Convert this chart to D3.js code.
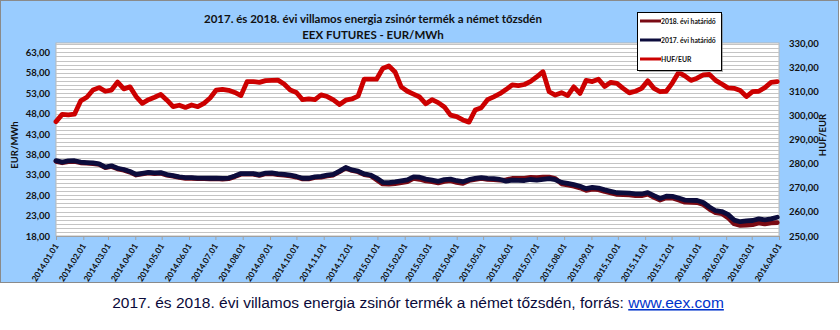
<!DOCTYPE html>
<html>
<head>
<meta charset="utf-8">
<script src="https://cdn.jsdelivr.net/npm/d3@7/dist/d3.min.js"></script>
<style>
  html, body { margin: 0; padding: 0; background: #fff; }
  svg { display: block; }
</style>
</head>
<body>
<svg id="chart" width="840" height="330"></svg>
<script>
// ---- Data (weekly readings starting 2014-01-01) ----
const startDate = "2014-01-01";
const stepDays = 7;

const hufEur = [
 297.4,300.4,300.2,300.5,306.0,307.5,310.5,311.5,310.0,310.5,
 313.8,311.0,311.8,307.8,305.0,306.5,307.5,308.7,306.3,303.6,
 304.2,303.3,304.3,303.6,305.0,307.2,310.5,310.8,310.4,309.5,
 308.2,314.0,314.0,313.7,314.4,314.5,314.6,313.0,310.5,309.5,
 306.5,306.8,306.5,308.5,307.8,306.4,304.5,306.3,306.8,308.0,
 315.0,315.0,315.0,319.4,320.5,318.0,311.8,310.0,308.8,307.6,
 304.8,306.5,305.3,303.5,300.1,299.5,298.1,297.2,302.2,303.2,
 306.5,307.7,309.0,310.7,312.6,312.3,312.8,314.1,316.0,318.1,
 309.8,308.4,309.4,308.2,311.8,309.1,314.5,314.0,315.0,312.0,
 313.7,313.3,311.2,309.3,310.0,311.2,314.3,311.2,309.8,310.0,
 313.5,317.8,316.4,314.5,315.4,316.8,317.0,314.5,313.0,311.4,
 311.2,310.3,307.8,309.8,310.0,311.5,313.7,314.0
];

const fut2017 = [
 36.46,36.10,36.40,36.45,36.10,36.00,35.90,35.70,34.90,35.20,
 34.60,34.30,33.80,33.10,33.35,33.60,33.45,33.55,33.05,32.80,
 32.50,32.30,32.30,32.20,32.20,32.15,32.20,32.10,32.20,32.70,
 33.30,33.30,33.30,33.00,33.40,33.45,33.20,33.10,32.90,32.60,
 32.15,32.15,32.50,32.60,32.90,33.10,33.90,34.80,34.20,33.90,
 33.20,32.95,32.20,31.15,31.10,31.25,31.50,31.75,32.50,32.40,
 31.95,31.70,31.40,31.80,31.95,31.55,31.30,31.80,32.10,32.30,
 32.10,32.05,31.85,31.45,31.70,31.65,31.60,31.85,31.70,31.90,
 32.05,31.80,31.15,30.90,30.60,30.20,29.60,29.90,29.75,29.30,
 28.95,28.60,28.55,28.50,28.30,28.30,28.65,27.90,27.20,27.75,
 27.70,27.30,26.80,26.75,26.70,26.20,25.10,24.20,24.00,23.30,
 21.90,21.50,21.70,21.80,22.20,21.95,22.20,22.60
];

const fut2018 = [
 36.30,35.95,36.25,36.30,35.95,35.85,35.75,35.55,34.75,35.05,
 34.45,34.15,33.65,32.95,33.20,33.45,33.30,33.40,32.90,32.65,
 32.35,32.15,32.15,32.05,32.05,32.00,32.05,31.95,32.05,32.55,
 33.15,33.15,33.15,32.85,33.25,33.30,33.05,32.95,32.75,32.45,
 32.00,32.00,32.35,32.45,32.75,32.95,33.75,34.65,34.05,33.75,
 33.05,32.80,31.80,30.75,30.70,30.85,31.10,31.35,32.10,31.90,
 31.50,31.30,31.00,31.40,31.55,31.15,30.90,31.60,31.90,32.10,
 31.90,31.85,31.70,31.75,32.10,32.10,32.10,32.35,32.30,32.40,
 32.45,32.10,30.80,30.50,30.20,29.80,29.20,29.50,29.35,28.90,
 28.55,28.20,28.15,28.10,27.90,27.90,28.25,27.50,26.80,27.35,
 27.30,26.80,26.30,26.25,26.20,25.70,24.60,23.70,23.50,22.50,
 21.00,20.60,20.70,20.80,21.20,20.95,21.20,21.30
];

const leftTicks = [18,23,28,33,38,43,48,53,58,63];
const rightTicks = [250,260,270,280,290,300,310,320,330];
const seriesNames = ["2018. évi határidő","2017. évi határidő","HUF/EUR"];
const titleLines = ["2017. és 2018. évi villamos energia zsinór termék a német tőzsdén","EEX FUTURES - EUR/MWh"];
const leftTitle = "EUR/MWh";
const rightTitle = "HUF/EUR";
const captionText = "2017. és 2018. évi villamos energia zsinór termék a német tőzsdén, forrás: ";
const captionLink = "www.eex.com";

// ---- Build ----
const parse = d3.timeParse("%Y-%m-%d");
const t0 = parse(startDate);
const dates = hufEur.map((_, i) => d3.timeDay.offset(t0, i * stepDays));

const svg = d3.select("#chart");
const P = {l: 56, r: 779, t: 43, b: 236};

const x = d3.scaleTime().domain([parse("2014-01-01"), parse("2016-04-01")]).range([P.l, P.r]);
const yL = d3.scaleLinear().domain([18, 65.3]).range([P.b, P.t]);
const yR = d3.scaleLinear().domain([250, 330]).range([P.b, P.t]);

const fmt = v => d3.format(".2f")(v).replace(".", ",");

// outer background
svg.append("rect").attr("x", 0.5).attr("y", 0.5).attr("width", 838).attr("height", 282)
  .attr("fill", "#99CCFF").attr("stroke", "#8a8a8a");

// plot area
svg.append("rect").attr("x", P.l).attr("y", P.t).attr("width", P.r - P.l).attr("height", P.b - P.t)
  .attr("fill", "#fff").attr("stroke", "#b8b8b8").attr("stroke-width", 1);

// gridlines every 1 unit on left axis
const gridVals = d3.range(19, 66, 1);
svg.append("g").selectAll("line").data(gridVals).join("line")
  .attr("x1", P.l).attr("x2", P.r)
  .attr("y1", d => Math.round(yL(d)) + 0.5).attr("y2", d => Math.round(yL(d)) + 0.5)
  .attr("stroke", "#c4c4c4").attr("stroke-width", 1);

// bottom axis line
svg.append("line").attr("x1", P.l).attr("x2", P.r).attr("y1", P.b + 0.5).attr("y2", P.b + 0.5)
  .attr("stroke", "#a0a0a0");

// x axis
const xAxis = d3.axisBottom(x).ticks(d3.timeMonth.every(1)).tickFormat(d3.timeFormat("%Y.%m.%d")).tickSize(4).tickSizeOuter(0);
const gx = svg.append("g").attr("transform", `translate(0,${P.b})`).call(xAxis);
gx.select(".domain").remove();
gx.selectAll(".tick line").attr("stroke", "#a0a0a0");
gx.selectAll(".tick text")
  .attr("font-family", "Lato, 'Open Sans', sans-serif").attr("font-weight", "bold").attr("font-size", "8.4px")
  .attr("fill", "#111").attr("text-anchor", "end")
  .attr("dy", 0).attr("y", 0)
  .attr("transform", "translate(2.5,10) rotate(-58)");

// left axis
const gyL = svg.append("g").attr("transform", `translate(${P.l},0)`)
  .call(d3.axisLeft(yL).tickValues(leftTicks).tickFormat(fmt).tickSize(0).tickPadding(6));
gyL.select(".domain").remove();
gyL.selectAll("text").attr("font-family", "Lato, 'Open Sans', sans-serif").attr("font-weight", "bold")
  .attr("font-size", "9.5px").attr("fill", "#111");

// right axis
const gyR = svg.append("g").attr("transform", `translate(${P.r},0)`)
  .call(d3.axisRight(yR).tickValues(rightTicks).tickFormat(fmt).tickSize(0).tickPadding(10));
gyR.select(".domain").remove();
gyR.selectAll("text").attr("font-family", "Lato, 'Open Sans', sans-serif").attr("font-weight", "bold")
  .attr("font-size", "9.5px").attr("fill", "#111");

// axis titles
svg.append("text").attr("transform", "translate(18,145) rotate(-90)").attr("text-anchor", "middle")
  .attr("font-family", "Lato, sans-serif").attr("font-weight", "bold").attr("font-size", "9.5px").attr("fill", "#111")
  .text(leftTitle);
svg.append("text").attr("transform", "translate(826,135) rotate(-90)").attr("text-anchor", "middle")
  .attr("font-family", "Lato, sans-serif").attr("font-weight", "bold").attr("font-size", "9.5px").attr("fill", "#111")
  .text(rightTitle);

// lines
const colors = ["#7a0a14", "#0c0c3c", "#cc0000"];
const lineL = vals => d3.line().x((d, i) => x(dates[i])).y(d => yL(d))(vals);
const lineR = vals => d3.line().x((d, i) => x(dates[i])).y(d => yR(d))(vals);

const lg = svg.append("g");
lg.append("path").attr("d", lineL(fut2018)).attr("fill", "none").attr("stroke", colors[0])
  .attr("stroke-width", 4.8).attr("stroke-linejoin", "round").attr("stroke-linecap", "round");
lg.append("path").attr("d", lineL(fut2017)).attr("fill", "none").attr("stroke", colors[1])
  .attr("stroke-width", 4.8).attr("stroke-linejoin", "round").attr("stroke-linecap", "round");
lg.append("path").attr("d", lineR(hufEur)).attr("fill", "none").attr("stroke", colors[2])
  .attr("stroke-width", 4.8).attr("stroke-linejoin", "round").attr("stroke-linecap", "round");

// title
svg.append("g").selectAll("text").data(titleLines).join("text")
  .attr("x", 373).attr("y", (d, i) => 23 + i * 16).attr("text-anchor", "middle")
  .attr("font-family", "Lato, 'Open Sans', sans-serif").attr("font-weight", "bold").attr("font-size", "11.5px")
  .attr("fill", "#111").text(d => d);

// legend
const L = {x: 637, y: 12, w: 84, h: 58};
svg.append("rect").attr("x", L.x + 2).attr("y", L.y + 2).attr("width", L.w).attr("height", L.h).attr("fill", "#7f7f7f").attr("opacity", 0.6);
svg.append("rect").attr("x", L.x + 0.5).attr("y", L.y + 0.5).attr("width", L.w).attr("height", L.h)
  .attr("fill", "#fff").attr("stroke", "#000").attr("stroke-width", 1);
const li = svg.append("g").selectAll("g").data(seriesNames).join("g")
  .attr("transform", (d, i) => `translate(${L.x},${L.y + 9 + i * 19})`);
li.append("line").attr("x1", 3).attr("x2", 24).attr("y1", 0).attr("y2", 0)
  .attr("stroke", (d, i) => colors[i]).attr("stroke-width", 3);
li.append("text").attr("x", 24).attr("y", 2.5)
  .attr("font-family", "Lato, sans-serif").attr("font-weight", "bold").attr("font-size", "6.8px").attr("fill", "#111")
  .text(d => d);

// caption
const cap = svg.append("text").attr("x", 418).attr("y", 308).attr("text-anchor", "middle")
  .attr("font-family", "'Liberation Sans', Arial, sans-serif").attr("font-size", "15.5px").attr("fill", "#0a0a3a");
cap.append("tspan").text(captionText);
cap.append("tspan").attr("fill", "#0033cc").attr("text-decoration", "underline").text(captionLink);
</script>
</body>
</html>
